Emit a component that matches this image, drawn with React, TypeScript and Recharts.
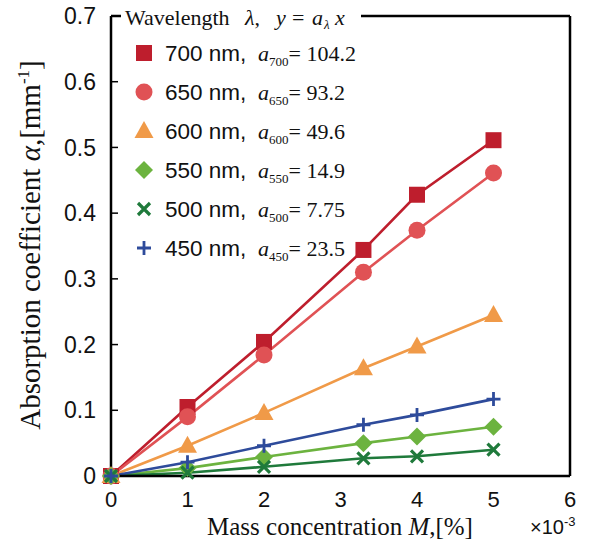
import React from "react"
import { LineChart, Line, XAxis, YAxis, ReferenceLine } from "recharts"

// mass concentration (x10^-3 %)
const massConc = [0, 1, 2, 3.3, 4, 5]

// absorption coefficient [mm^-1] per wavelength
const alpha700 = [0, 0.105, 0.204, 0.344, 0.428, 0.511]
const alpha650 = [0, 0.09, 0.184, 0.31, 0.374, 0.461]
const alpha600 = [0, 0.046, 0.096, 0.164, 0.197, 0.245]
const alpha550 = [0, 0.012, 0.029, 0.05, 0.06, 0.075]
const alpha500 = [0, 0.005, 0.014, 0.027, 0.03, 0.04]
const alpha450 = [0, 0.021, 0.046, 0.078, 0.093, 0.117]

const wavelengths = ["700", "650", "600", "550", "500", "450"]
const coefficients = ["104.2", "93.2", "49.6", "14.9", "7.75", "23.5"]

const xTicks = [0, 1, 2, 3, 4, 5, 6]
const yTicks = [0, 0.1, 0.2, 0.3, 0.4, 0.5, 0.6, 0.7]

const SANS = "'Liberation Sans', Arial, sans-serif"
const SERIF = "'Liberation Serif', 'Times New Roman', serif"

type Shape = "square" | "circle" | "triangle" | "diamond" | "cross" | "plus"

const series: { key: string; values: number[]; color: string; shape: Shape }[] = [
  { key: "w700", values: alpha700, color: "#BE1E2D", shape: "square" },
  { key: "w650", values: alpha650, color: "#E05255", shape: "circle" },
  { key: "w600", values: alpha600, color: "#F09A48", shape: "triangle" },
  { key: "w550", values: alpha550, color: "#6CB33F", shape: "diamond" },
  { key: "w500", values: alpha500, color: "#1F7A3B", shape: "cross" },
  { key: "w450", values: alpha450, color: "#2E4B9B", shape: "plus" },
]

const data = massConc.map((x, i) => {
  const row: Record<string, number> = { x }
  series.forEach((s) => {
    row[s.key] = s.values[i]
  })
  return row
})

function Marker({ shape, cx, cy, color }: { shape: Shape; cx: number; cy: number; color: string }) {
  switch (shape) {
    case "square":
      return <rect x={cx - 8} y={cy - 8} width={16} height={16} fill={color} />
    case "circle":
      return <circle cx={cx} cy={cy} r={8.5} fill={color} />
    case "triangle":
      return (
        <polygon
          points={`${cx},${cy - 10} ${cx + 9.5},${cy + 7} ${cx - 9.5},${cy + 7}`}
          fill={color}
        />
      )
    case "diamond":
      return (
        <polygon
          points={`${cx},${cy - 9} ${cx + 9},${cy} ${cx},${cy + 9} ${cx - 9},${cy}`}
          fill={color}
        />
      )
    case "cross":
      return (
        <path
          d={`M${cx - 6},${cy - 6}L${cx + 6},${cy + 6}M${cx + 6},${cy - 6}L${cx - 6},${cy + 6}`}
          stroke={color}
          strokeWidth={3.2}
          fill="none"
        />
      )
    default:
      return (
        <path
          d={`M${cx - 7},${cy}L${cx + 7},${cy}M${cx},${cy - 7}L${cx},${cy + 7}`}
          stroke={color}
          strokeWidth={2.8}
          fill="none"
        />
      )
  }
}

function Overlay() {
  const rowY = [53, 92, 131, 170, 209, 248]
  return (
    <svg
      width={603}
      height={540}
      style={{ position: "absolute", left: 0, top: 0, pointerEvents: "none" }}
    >
      {/* legend title, sits on the top frame line */}
      <rect x={121} y={4} width={240} height={26} fill="#fff" />
      <text y={25} fontFamily={SERIF} fontSize={22} fill="#111">
        <tspan x={125}>Wavelength</tspan>
        <tspan x={245} fontStyle="italic">λ</tspan>
        <tspan>,</tspan>
        <tspan x={276} fontStyle="italic">y</tspan>
        <tspan x={292}>=</tspan>
        <tspan x={312} fontStyle="italic">a</tspan>
        <tspan x={324} fontStyle="italic" fontSize={13} dy={4}>λ</tspan>
        <tspan x={335} fontStyle="italic" dy={-4}>x</tspan>
      </text>

      {series.map((s, i) => (
        <g key={s.key}>
          <Marker shape={s.shape} cx={144} cy={rowY[i]} color={s.color} />
          <text x={165} y={rowY[i] + 8} fontFamily={SANS} fontSize={22.5} fill="#111">
            {wavelengths[i]} nm,
          </text>
          <text x={258} y={rowY[i] + 8} fontFamily={SERIF} fontSize={22} fill="#111">
            <tspan fontStyle="italic">a</tspan>
            <tspan fontSize={13} dy={5}>{wavelengths[i]}</tspan>
            <tspan dy={-5}>= {coefficients[i]}</tspan>
          </text>
        </g>
      ))}

      {/* axis titles */}
      <text
        transform="translate(40,245) rotate(-90)"
        textAnchor="middle"
        fontFamily={SERIF}
        fontSize={29}
        fill="#111"
      >
        Absorption coefficient <tspan fontStyle="italic">α</tspan>,[mm
        <tspan fontSize={17} dy={-11}>-1</tspan>
        <tspan dy={11}>]</tspan>
      </text>
      <text x={340} y={535} textAnchor="middle" fontFamily={SERIF} fontSize={25} fill="#111">
        Mass concentration <tspan fontStyle="italic">M</tspan>,[%]
      </text>
      <text x={530} y={534} fontFamily={SANS} fontSize={20} fill="#111">
        ×10<tspan fontSize={13} dy={-8}>-3</tspan>
      </text>
    </svg>
  )
}

export default function App() {
  return (
    <div style={{ position: "absolute", left: 0, top: 0, width: 603, height: 540, background: "#fff" }}>
      <LineChart width={603} height={540} data={data} margin={{ top: 16, right: 33, bottom: 0, left: 0 }}>
        <XAxis
          dataKey="x"
          type="number"
          domain={[0, 6]}
          ticks={xTicks}
          height={64}
          tickLine={false}
          tickSize={0}
          tickMargin={15}
          axisLine={{ stroke: "#000", strokeWidth: 2.5 }}
          tick={{ fontFamily: SANS, fontSize: 22, fill: "#111" }}
        />
        <YAxis
          type="number"
          domain={[0, 0.7]}
          ticks={yTicks}
          width={111}
          tickSize={-7}
          tickMargin={22}
          tickLine={{ stroke: "#000", strokeWidth: 1.5 }}
          axisLine={{ stroke: "#000", strokeWidth: 2.5 }}
          tickFormatter={(v: number) => (v === 0 ? "0" : v.toFixed(1))}
          tick={{ fontFamily: SANS, fontSize: 23, fill: "#111" }}
        />
        <ReferenceLine y={0.7} stroke="#000" strokeWidth={2.5} />
        <ReferenceLine x={6} stroke="#000" strokeWidth={2.5} />
        {series.map((s) => (
          <Line
            key={s.key}
            dataKey={s.key}
            type="linear"
            stroke={s.color}
            strokeWidth={2.6}
            isAnimationActive={false}
            dot={(p: any) => (
              <Marker key={`${s.key}-${p.index}`} shape={s.shape} cx={p.cx} cy={p.cy} color={s.color} />
            )}
            activeDot={false}
          />
        ))}
      </LineChart>
      <Overlay />
    </div>
  )
}
